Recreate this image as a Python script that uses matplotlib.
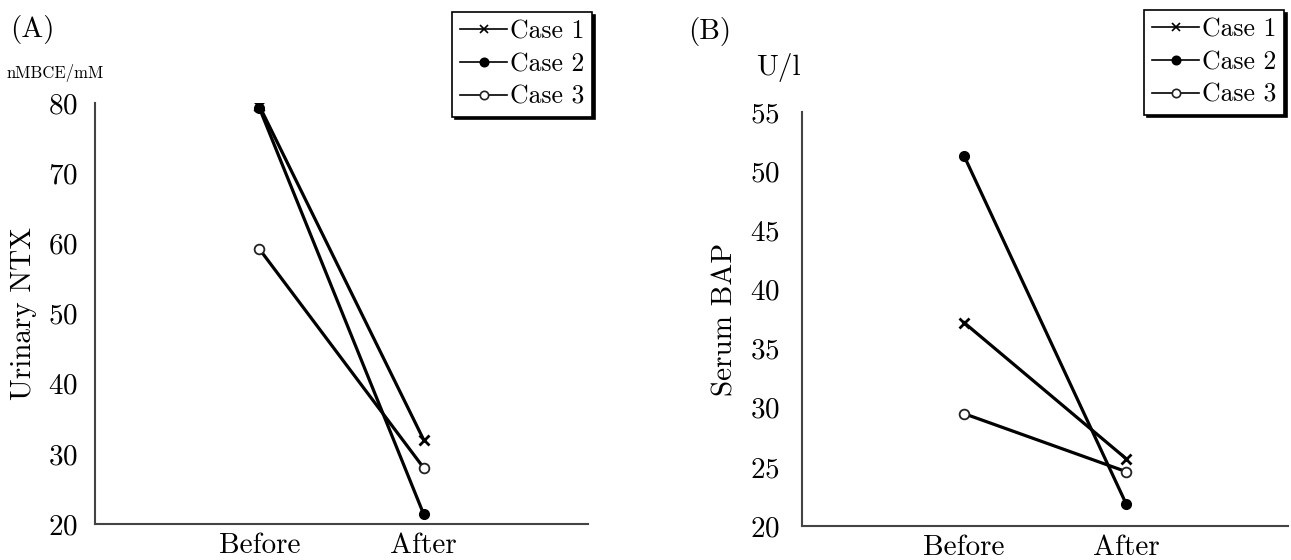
import matplotlib.pyplot as plt

plt.rcParams['font.family'] = ['cmr10', 'DejaVu Serif']
plt.rcParams['axes.formatter.use_mathtext'] = True

groups = ['Before', 'After']
cases = ['Case 1', 'Case 2', 'Case 3']

# panel A: urinary NTX (nMBCE/mM)
ntx_case1 = [79.6, 32.0]
ntx_case2 = [79.3, 21.4]
ntx_case3 = [59.2, 28.0]

# panel B: serum BAP (U/l)
bap_case1 = [37.2, 25.7]
bap_case2 = [51.3, 21.9]
bap_case3 = [29.5, 24.6]

markers = [dict(marker='x', ms=7, mew=2, mfc='black', mec='black'),
           dict(marker='o', ms=7, mfc='black', mec='black'),
           dict(marker='o', ms=7, mfc='white', mec='#222', mew=1.3)]

fig = plt.figure(figsize=(12.91, 5.6), dpi=100)
W, H = 1291, 560


def panel(rect, series, yticks, ylabel, unit, unit_xy, tag, tag_xy, leg_xy, pad):
    ax = fig.add_axes(rect)
    x = [1, 2]
    for vals, name, mk in zip(series, cases, markers):
        ax.plot(x, vals, color='black', lw=2.3, label=name, **mk)
    ax.set_xlim(0, 3)
    ax.set_ylim(yticks[0], yticks[-1])
    ax.set_yticks(yticks)
    ax.set_xticks(x)
    ax.set_xticklabels(groups)
    ax.tick_params(length=0, labelsize=21)
    ax.tick_params(axis='y', pad=pad)
    ax.tick_params(axis='x', pad=6)
    for s in ['top', 'right']:
        ax.spines[s].set_visible(False)
    for s in ['left', 'bottom']:
        ax.spines[s].set_color('#444')
        ax.spines[s].set_linewidth(1.5)
    ax.set_ylabel(ylabel, fontsize=21, labelpad=8)
    fig.text(unit_xy[0] / W, 1 - unit_xy[1] / H, unit, fontsize=unit_xy[2], ha='left', va='center')
    fig.text(tag_xy[0] / W, 1 - tag_xy[1] / H, tag, fontsize=21, ha='left', va='center')
    leg = ax.legend(loc='upper right', bbox_to_anchor=(leg_xy[0] / W, 1 - leg_xy[1] / H),
                    bbox_transform=fig.transFigure, fontsize=18.5, frameon=True, fancybox=False,
                    edgecolor='black', framealpha=1, handlelength=1.85, handletextpad=0.1,
                    borderpad=0.3, borderaxespad=0, labelspacing=0.35,
                    shadow={'color': 'black', 'alpha': 1})
    leg.get_frame().set_linewidth(1.2)
    for line in leg.get_lines():
        line.set_linewidth(1.2)
        line.set_markersize(6)
        line.set_markeredgewidth(1.2)
    return ax


panel([95 / W, 1 - 524 / H, (588 - 95) / W, (524 - 103) / H],
      [ntx_case1, ntx_case2, ntx_case3], [20, 30, 40, 50, 60, 70, 80],
      'Urinary NTX', 'nMBCE/mM', (7, 73, 12), '(A)', (10, 30), (592, 12), 12)

panel([802 / W, 1 - 526 / H, (1288 - 802) / W, (526 - 112) / H],
      [bap_case1, bap_case2, bap_case3], [20, 25, 30, 35, 40, 45, 50, 55],
      'Serum BAP', 'U/l', (756, 68, 21), '(B)', (688, 32), (1284, 10), 16)

fig.savefig('out.png', dpi=100)
